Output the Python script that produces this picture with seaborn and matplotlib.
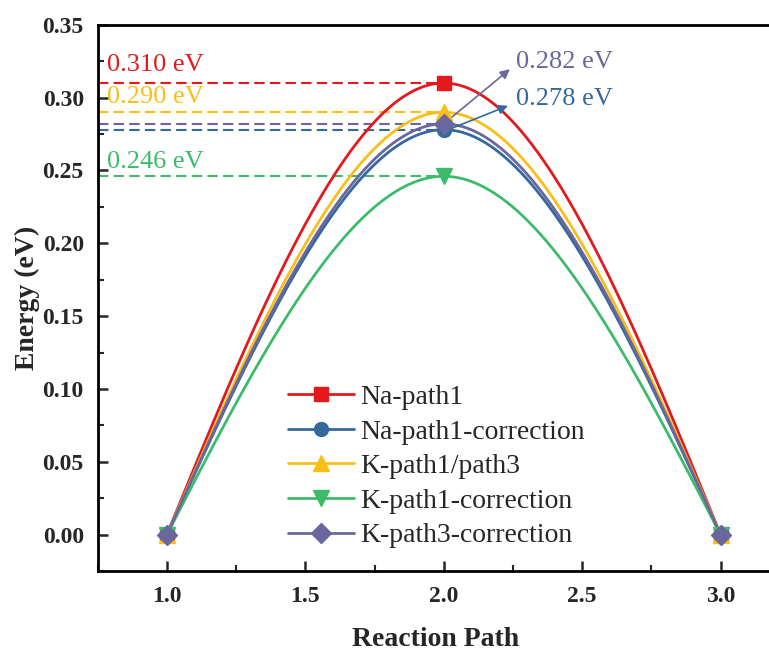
import numpy as np
import pandas as pd
import seaborn as sns
import matplotlib
matplotlib.use("Agg")
import matplotlib.pyplot as plt
from matplotlib.lines import Line2D
from matplotlib.ticker import MultipleLocator

# Reaction coordinate and relative energies (eV)
path = [1.0, 2.0, 3.0]
na_path1 = [0.0, 0.310, 0.0]
na_path1_corr = [0.0, 0.278, 0.0]
k_path13 = [0.0, 0.290, 0.0]
k_path1_corr = [0.0, 0.246, 0.0]
k_path3_corr = [0.0, 0.282, 0.0]

names = ["Na-path1", "Na-path1-correction", "K-path1/path3",
         "K-path1-correction", "K-path3-correction"]
series = [na_path1, na_path1_corr, k_path13, k_path1_corr, k_path3_corr]
colors = ["#E3191C", "#35689C", "#F9BE17", "#3DBB6B", "#6A679F"]
markers = ["s", "o", "^", "v", "D"]
msizes = [10, 10, 11, 11, 10]


def natural_spline(x, y, xs):
    """Natural cubic spline through (x, y), evaluated at xs."""
    x = np.asarray(x, float)
    y = np.asarray(y, float)
    n = len(x)
    h = np.diff(x)
    A = np.zeros((n, n))
    b = np.zeros(n)
    A[0, 0] = A[-1, -1] = 1.0
    for i in range(1, n - 1):
        A[i, i - 1] = h[i - 1]
        A[i, i] = 2 * (h[i - 1] + h[i])
        A[i, i + 1] = h[i]
        b[i] = 6 * ((y[i + 1] - y[i]) / h[i] - (y[i] - y[i - 1]) / h[i - 1])
    M = np.linalg.solve(A, b)
    out = np.empty_like(xs)
    for j, xv in enumerate(xs):
        i = min(np.searchsorted(x, xv, side="right") - 1, n - 2)
        i = max(i, 0)
        t1 = x[i + 1] - xv
        t0 = xv - x[i]
        hi = h[i]
        out[j] = (M[i] * t1 ** 3 / (6 * hi) + M[i + 1] * t0 ** 3 / (6 * hi)
                  + (y[i] / hi - M[i] * hi / 6) * t1
                  + (y[i + 1] / hi - M[i + 1] * hi / 6) * t0)
    return out


sns.set_theme(style="ticks")
plt.rcParams["font.family"] = ["Liberation Serif", "DejaVu Serif"]

fig = plt.figure(figsize=(7.69, 6.52), dpi=100)
ax = fig.add_axes([0.127, 0.124, 0.900, 0.838])

xs = np.linspace(1.0, 3.0, 400)
rows = []
pts = []
for name, vals in zip(names, series):
    ys = natural_spline(path, vals, xs)
    rows.append(pd.DataFrame({"x": xs, "y": ys, "series": name}))
    pts.append(pd.DataFrame({"x": path, "y": vals, "series": name}))
curves = pd.concat(rows, ignore_index=True)
points = pd.concat(pts, ignore_index=True)

palette = dict(zip(names, colors))

# dashed guides from the axis to each barrier top
for name, vals, c in zip(names, series, colors):
    peak = max(vals)
    ax.plot([0.75, path[int(np.argmax(vals))]], [peak, peak], color=c,
            lw=1.5, ls=(0, (5, 2.5)), zorder=1)

sns.lineplot(data=curves, x="x", y="y", hue="series", palette=palette,
             hue_order=names, lw=2.0, legend=False, ax=ax, sort=False,
             estimator=None)
for name, c, m, ms in zip(names, colors, markers, msizes):
    d = points[points["series"] == name]
    ax.plot(d["x"], d["y"], ls="none", marker=m, ms=ms, color=c,
            markeredgecolor=c, zorder=5)

# labels for barrier heights
ax.text(0.785, 0.3226, "0.310 eV", color=colors[0], fontsize=19,
        va="center", ha="left")
ax.text(0.785, 0.3005, "0.290 eV", color=colors[2], fontsize=19,
        va="center", ha="left")
ax.text(0.785, 0.2560, "0.246 eV", color=colors[3], fontsize=19,
        va="center", ha="left")
ax.text(2.26, 0.3246, "0.282 eV", color=colors[4], fontsize=19,
        va="center", ha="left")
ax.text(2.26, 0.2992, "0.278 eV", color=colors[1], fontsize=19,
        va="center", ha="left")
ax.annotate("", xy=(2.239, 0.3195), xytext=(2.0, 0.282),
            arrowprops=dict(arrowstyle="-|>", color=colors[4], lw=1.2,
                            mutation_scale=14, shrinkA=0, shrinkB=0))
ax.annotate("", xy=(2.232, 0.2944), xytext=(2.03, 0.279),
            arrowprops=dict(arrowstyle="-|>", color=colors[1], lw=1.2,
                            mutation_scale=14, shrinkA=0, shrinkB=0))

ax.set_xlim(0.75, 3.25)
ax.set_ylim(-0.025, 0.35)
ax.xaxis.set_minor_locator(MultipleLocator(0.25))
ax.yaxis.set_minor_locator(MultipleLocator(0.025))
ax.set_xticks([1.0, 1.5, 2.0, 2.5, 3.0])
ax.set_xticklabels(["1.0", "1.5", "2.0", "2.5", "3.0"])
yt = np.arange(0, 0.351, 0.05)
ax.set_yticks(yt)
ax.set_yticklabels([f"{v:.2f}" for v in yt])
ax.tick_params(which="major", direction="in", length=7, width=1.8,
               labelsize=17)
ax.tick_params(axis="x", which="major", pad=11)
ax.tick_params(axis="y", which="major", pad=10)
ax.tick_params(which="minor", direction="in", length=4, width=1.5)
ax.tick_params(top=False, right=False, which="both")
for lab in ax.get_xticklabels() + ax.get_yticklabels():
    lab.set_fontweight("bold")
for sp in ax.spines.values():
    sp.set_linewidth(2.0)
    sp.set_color("black")

ax.set_xlabel("Reaction Path", fontsize=20, fontweight="bold")
ax.xaxis.set_label_coords(0.488, -0.103)
ax.set_ylabel("Energy (eV)", fontsize=20, fontweight="bold", labelpad=2)

handles = [Line2D([], [], color=c, lw=2.0, marker=m, ms=ms)
           for c, m, ms in zip(colors, markers, msizes)]
ax.legend(handles, names, loc="lower center", bbox_to_anchor=(0.49, -0.004),
          frameon=False, fontsize=20, handlelength=2.35, labelspacing=0.33,
          handletextpad=0.25)

fig.savefig("out.png", dpi=100)
